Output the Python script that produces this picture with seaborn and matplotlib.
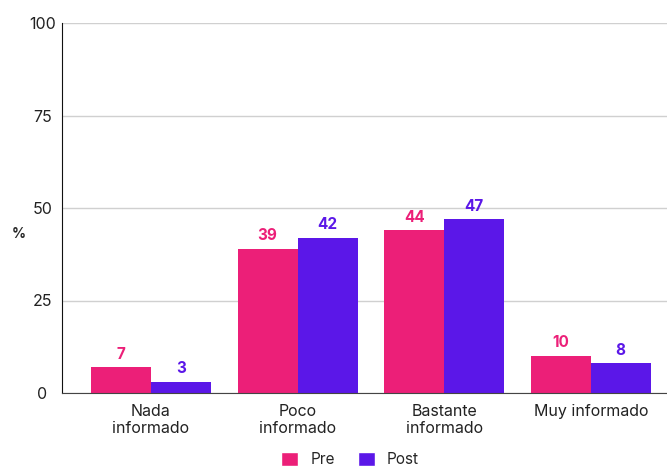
import pandas as pd
import matplotlib.pyplot as plt
import seaborn as sns
from matplotlib.patches import Patch

sns.set_style("white")
plt.rcParams['font.family'] = ['Inter', 'DejaVu Sans']

categories = ['Nada\ninformado', 'Poco\ninformado', 'Bastante\ninformado', 'Muy informado']
pre = [7, 39, 44, 10]
post = [3, 42, 47, 8]
series = ['Pre', 'Post']
colors = ['#EC1F78', '#5B17E8']

df = pd.DataFrame({
    'categoria': categories * 2,
    'serie': ['Pre'] * len(pre) + ['Post'] * len(post),
    'valor': pre + post,
})

fig = plt.figure(figsize=(6.67, 4.67), dpi=100)
ax = fig.add_axes([62 / 667, 1 - 393 / 467, 605 / 667, 370 / 467])

sns.barplot(data=df, x='categoria', y='valor', hue='serie', hue_order=series,
            palette=colors, width=0.818, saturation=1, ax=ax, legend=False,
            edgecolor='none')

for cont, col in zip(ax.containers, colors):
    ax.bar_label(cont, labels=[f'{v:.0f}' for v in cont.datavalues], padding=4,
                 color=col, fontsize=11, fontweight='bold')

ax.set_ylim(0, 100)
ax.set_xlim(-0.607, 3.52)
ax.set_yticks([0, 25, 50, 75, 100])
ax.yaxis.grid(True, color='#d0d0d0', linewidth=1)
ax.set_axisbelow(True)
ax.tick_params(axis='both', length=0, labelsize=11.5, colors='#222222')
ax.tick_params(axis='y', pad=14)
ax.tick_params(axis='x', pad=8)
for t in ax.get_yticklabels():
    t.set_horizontalalignment('center')
for t in ax.get_xticklabels():
    t.set_linespacing(1.15)
ax.set_xlabel('')
ax.set_ylabel('%', rotation=0, fontsize=10, fontweight='bold')
ax.yaxis.set_label_coords(-0.072, 0.41)

for s in ['top', 'right']:
    ax.spines[s].set_visible(False)
ax.spines['left'].set_color('#111111')
ax.spines['bottom'].set_color('#444444')

handles = [Patch(facecolor=c, label=l) for c, l in zip(colors, series)]
fig.legend(handles=handles, loc='lower center', bbox_to_anchor=(0.525, -0.03),
           ncol=2, frameon=False, fontsize=11, handlelength=1.1,
           handleheight=1.1, columnspacing=1.5, handletextpad=0.8)

fig.savefig('out.png', dpi=100)
